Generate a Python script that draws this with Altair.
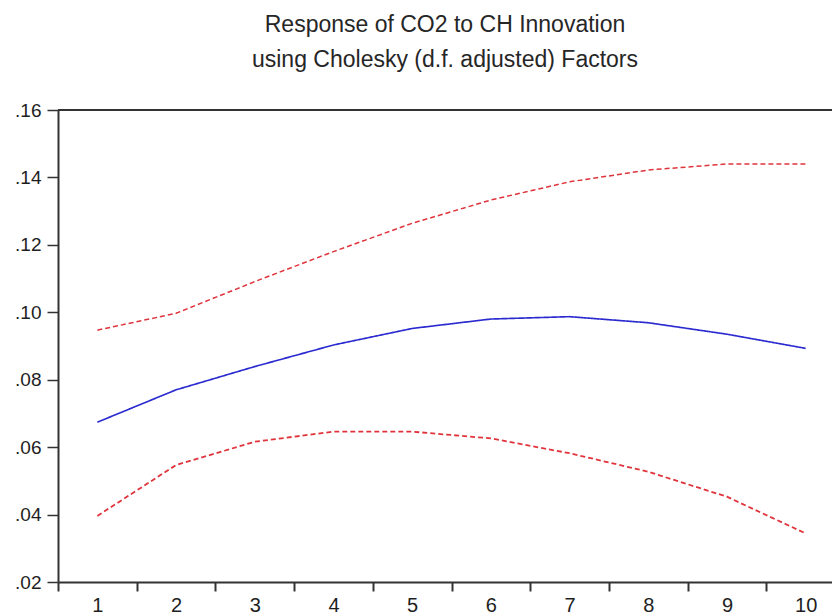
import altair as alt
import pandas as pd

periods = [str(i) for i in range(1, 11)]
response = [0.0674, 0.0770, 0.0839, 0.0903, 0.0952, 0.0980, 0.0987, 0.0969, 0.0935, 0.0893]
upper = [0.0947, 0.0997, 0.1091, 0.1180, 0.1264, 0.1333, 0.1387, 0.1422, 0.1440, 0.1440]
lower = [0.0396, 0.0547, 0.0616, 0.0646, 0.0646, 0.0626, 0.0582, 0.0527, 0.0453, 0.0344]
y_ticks = [0.02, 0.04, 0.06, 0.08, 0.10, 0.12, 0.14, 0.16]
title_lines = ["Response of CO2 to CH Innovation", "using Cholesky (d.f. adjusted) Factors"]

rows = []
for name, vals in [("upper", upper), ("response", response), ("lower", lower)]:
    for p, v in zip(periods, vals):
        rows.append({"period": p, "value": v, "series": name})
df = pd.DataFrame(rows)

FONT = "Liberation Sans"
AX = "#333333"

x_enc = alt.X(
    "period:O",
    sort=periods,
    scale=alt.Scale(domain=periods, paddingInner=0, paddingOuter=0, range=[0, 787]),
    axis=alt.Axis(
        title=None, labelAngle=0, tickBand="extent", tickSize=9, tickColor=AX,
        tickWidth=2, domainColor=AX, domainWidth=2, labelFontSize=20,
        labelColor="#1e1e1e", labelFont=FONT, labelPadding=4, grid=False,
    ),
)
y_enc = alt.Y(
    "value:Q",
    scale=alt.Scale(domain=[0.02, 0.16], nice=False, zero=False),
    axis=alt.Axis(
        title=None, values=y_ticks, labelExpr="substring(format(datum.value, '.2f'), 1)",
        tickSize=11, tickColor=AX, tickWidth=1.5, domainColor=AX, domainWidth=2,
        labelFontSize=19, labelColor="#1e1e1e", labelFont=FONT, labelPadding=6, grid=False,
    ),
)

lines = alt.Chart(df).mark_line(clip=True).encode(
    x=x_enc,
    y=y_enc,
    detail="series:N",
    color=alt.Color("series:N", scale=alt.Scale(domain=["upper", "response", "lower"],
                                                range=["#e0343c", "#2b2bd0", "#e0343c"]), legend=None),
    strokeDash=alt.StrokeDash("series:N", scale=alt.Scale(domain=["upper", "response", "lower"],
                                                        range=[[5, 3], [1, 0], [5, 3]]), legend=None),
    strokeWidth=alt.StrokeWidth("series:N", scale=alt.Scale(domain=["upper", "response", "lower"],
                                                           range=[1.5, 1.8, 1.5]), legend=None),
)

top_border = alt.Chart(pd.DataFrame({"v": [0.16]})).mark_rule(color=AX, strokeWidth=2).encode(
    y=alt.Y("v:Q"),
    x=alt.value(0),
    x2=alt.value(800),
)

chart = alt.layer(lines, top_border).properties(
    width=774,
    height=472,
    padding={"left": 58, "top": 110, "right": 0, "bottom": 33},
    autosize=alt.AutoSizeParams(type="none"),
    title=alt.TitleParams(
        text=title_lines, anchor="middle", fontSize=23, font=FONT, fontWeight="normal",
        color="#262626", lineHeight=35, offset=29,
    ),
    background="white",
).configure_view(strokeOpacity=0)

chart.save("out.html", embed_options={"renderer": "svg", "actions": False})
